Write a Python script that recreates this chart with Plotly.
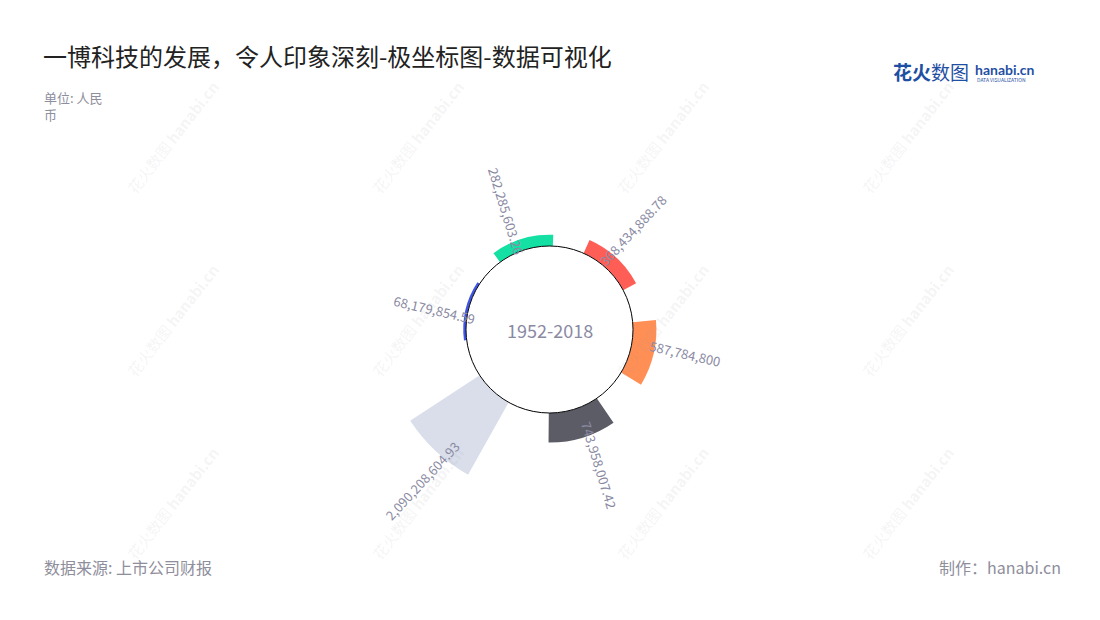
import math
import plotly.graph_objects as go

# ---------------- data ----------------
categories = ["类目1", "类目2", "类目3", "类目4", "类目5", "类目6"]
values = [68179854.59, 282285603.26, 368434888.78, 587784800.00, 743958007.42, 2090208604.93]
colors = ["#3E55E6", "#14E0A4", "#FF5E57", "#FF8F55", "#5C5C66", "#D9DEEA"]
center_label = "1952-2018"
title_text = "一博科技的发展，令人印象深刻-极坐标图-数据可视化"
unit_text = "单位: 人民<br>币"
source_text = "数据来源: 上市公司财报"
credit_text = "制作：hanabi.cn"

# ---------------- geometry ----------------
W, H = 1100, 620
CX, CY = 549.5, 290.5          # centre (px from left / bottom)
R_OUT, R_HOLE = 167.0, 83.5
RMAX = 2.1e9
ROT = 167                       # plotly rotation of first category
STEP = 360 / len(categories)
BAR_PX = 60                     # tangential size of each bar in px
LABEL_GAP = 31                  # px
LABEL_SHIFT = -3                # deg

def fmt(v):
    s = f"{v:,.2f}"
    return s[:-3] if s.endswith(".00") else s

def r_px(v):
    return R_HOLE + v / RMAX * (R_OUT - R_HOLE)

# width in category units (1 category = STEP degrees)
widths = [math.degrees(BAR_PX / ((R_HOLE + r_px(v)) / 2)) / STEP for v in values]

fig = go.Figure()
fig.add_trace(go.Barpolar(
    r=values, theta=categories, width=widths,
    marker=dict(color=colors, line=dict(width=0)),
    subplot="polar", hoverinfo="skip", showlegend=False,
))
fig.add_trace(go.Scatterpolar(r=[], theta=[], subplot="polar2", showlegend=False))

fig.update_layout(
    width=W, height=H,
    margin=dict(l=0, r=0, t=0, b=0),
    paper_bgcolor="white", plot_bgcolor="white",
    font=dict(family="Noto Sans CJK SC, Noto Sans, sans-serif"),
    polar=dict(
        domain=dict(x=[(CX - R_OUT) / W, (CX + R_OUT) / W],
                    y=[(CY - R_OUT) / H, (CY + R_OUT) / H]),
        hole=R_HOLE / R_OUT,
        bgcolor="rgba(0,0,0,0)",
        radialaxis=dict(visible=False, range=[0, RMAX]),
        angularaxis=dict(visible=False, type="category", rotation=ROT,
                         direction="clockwise", categoryorder="array",
                         categoryarray=categories),
    ),
    polar2=dict(
        domain=dict(x=[(CX - R_HOLE) / W, (CX + R_HOLE) / W],
                    y=[(CY - R_HOLE) / H, (CY + R_HOLE) / H]),
        bgcolor="rgba(0,0,0,0)",
        radialaxis=dict(visible=False),
        angularaxis=dict(showline=True, linecolor="#000000", linewidth=1,
                         showgrid=False, showticklabels=False, ticks=""),
    ),
)

ann = []
# watermarks
for wx in [172, 417, 662, 907]:
    for wy in [137, 320, 503]:
        ann.append(dict(
            x=wx / W, y=1 - wy / H, xref="paper", yref="paper",
            xanchor="center", yanchor="middle",
            text="花火数图 <b>hanabi.cn</b>", showarrow=False, textangle=-52,
            font=dict(size=15, color="rgba(150,150,160,0.11)"),
        ))

# value labels
phi0 = 90 - ROT
for i, v in enumerate(values):
    phi = (phi0 + STEP * i) % 360
    rr = r_px(v) + LABEL_GAP
    pl = phi + LABEL_SHIFT
    px = CX + rr * math.sin(math.radians(pl))
    py = CY + rr * math.cos(math.radians(pl))
    ang = phi - 90 if phi <= 180 else phi - 270
    ann.append(dict(
        x=px / W, y=py / H, xref="paper", yref="paper", text=fmt(v),
        showarrow=False, textangle=ang, xanchor="center", yanchor="middle",
        font=dict(size=13, color="#8A8AA3"),
    ))

# centre label
ann.append(dict(x=CX / W, y=CY / H, xref="paper", yref="paper", text=center_label,
                xanchor="center", yanchor="middle",
                showarrow=False, font=dict(size=18, color="#8A8AA3")))
# title / subtitle
ann.append(dict(x=41 / W, y=1 - 55 / H, xref="paper", yref="paper", text=title_text,
                showarrow=False, xanchor="left", yanchor="middle",
                font=dict(size=24, color="#222222")))
ann.append(dict(x=42 / W, y=1 - 86 / H, xref="paper", yref="paper", text=unit_text,
                showarrow=False, xanchor="left", yanchor="top", align="left",
                font=dict(size=13, color="#8E8E9C")))
# footer
ann.append(dict(x=42 / W, y=1 - 567 / H, xref="paper", yref="paper", text=source_text,
                showarrow=False, xanchor="left", yanchor="middle",
                font=dict(size=16, color="#8E8E9C")))
ann.append(dict(x=1063 / W, y=1 - 567 / H, xref="paper", yref="paper", text=credit_text,
                showarrow=False, xanchor="right", yanchor="middle",
                font=dict(size=16, color="#8E8E9C")))
# logo
ann.append(dict(x=891 / W, y=1 - 72 / H, xref="paper", yref="paper", text="<b>花火</b>数图",
                showarrow=False, xanchor="left", yanchor="middle",
                font=dict(size=19, color="#1F4FA3")))
ann.append(dict(x=973 / W, y=1 - 69 / H, xref="paper", yref="paper", text="<b>hanabi.cn</b>",
                showarrow=False, xanchor="left", yanchor="middle",
                font=dict(size=14, color="#1F4FA3", family="Lato, sans-serif")))
ann.append(dict(x=975 / W, y=1 - 79 / H, xref="paper", yref="paper", text="DATA VISUALIZATION",
                showarrow=False, xanchor="left", yanchor="middle",
                font=dict(size=5, color="#1F4FA3")))

fig.update_layout(annotations=ann)
fig.write_html("out.html", config={"displayModeBar": False},
               post_script="document.body.style.margin='0';")
